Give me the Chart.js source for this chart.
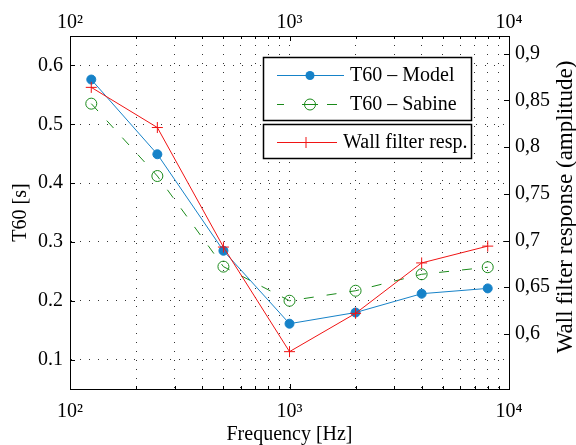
<!DOCTYPE html>
<html><head><meta charset="utf-8">
<script src="https://cdn.jsdelivr.net/npm/chart.js@4"></script>
<style>html,body{margin:0;padding:0;background:#fff;}canvas{display:block;}</style>
</head><body>
<canvas id="c" width="576" height="445"></canvas>
<script>
// ---- data ----
const frequencies = [125, 250, 500, 1000, 2000, 4000, 8000];
const t60Model   = [0.576, 0.449, 0.285, 0.161, 0.180, 0.212, 0.221];
const t60Sabine  = [0.535, 0.412, 0.258, 0.200, 0.217, 0.245, 0.257];
const wallFilter = [0.864, 0.821, 0.693, 0.581, 0.622, 0.676, 0.694];

const xTickValues = [100,200,300,400,500,600,700,800,900,1000,2000,3000,4000,5000,6000,7000,8000,9000,10000];
const xTickLabels = {100:'10\u00B2', 1000:'10\u00B3', 10000:'10\u2074'};
const yLeftTicks  = [0.1, 0.2, 0.3, 0.4, 0.5, 0.6];
const yLeftLabels = ['0.1','0.2','0.3','0.4','0.5','0.6'];
const yRightTicks  = [0.6, 0.65, 0.7, 0.75, 0.8, 0.85, 0.9];
const yRightLabels = ['0,6','0,65','0,7','0,75','0,8','0,85','0,9'];

const FONT = "'Liberation Serif', 'Times New Roman', serif";
const BLUE = '#1682c8', GREEN = '#1a8a1a', RED = '#f01414';

const pts = ys => frequencies.map((f, i) => ({x: f, y: ys[i]}));

const decorations = {
  id: 'decorations',
  afterDraw(chart) {
    const {ctx, chartArea: a, scales} = chart;
    ctx.save();
    ctx.strokeStyle = '#000'; ctx.lineWidth = 1; ctx.setLineDash([]);
    ctx.beginPath();
    xTickValues.forEach(v => {
      if (v === 100 || v === 10000) return;
      const px = Math.round(scales.x.getPixelForValue(v)) + 0.5;
      const len = xTickLabels[v] ? 5 : 3;
      ctx.moveTo(px, a.bottom); ctx.lineTo(px, a.bottom - len);
      ctx.moveTo(px, a.top); ctx.lineTo(px, a.top + len);
    });
    yLeftTicks.forEach(v => {
      const py = Math.round(scales.y.getPixelForValue(v)) + 0.5;
      ctx.moveTo(a.left, py); ctx.lineTo(a.left + 5, py);
    });
    yRightTicks.forEach(v => {
      const py = Math.round(scales.y2.getPixelForValue(v)) + 0.5;
      ctx.moveTo(a.right, py); ctx.lineTo(a.right - 5, py);
    });
    ctx.stroke();

    // right axis title (reads bottom to top)
    ctx.save();
    ctx.translate(566, 207);
    ctx.rotate(-Math.PI / 2);
    ctx.fillStyle = '#000';
    ctx.font = '23px ' + FONT;
    ctx.textAlign = 'center'; ctx.textBaseline = 'middle';
    ctx.fillText('Wall filter response (amplitude)', 0, 0);
    ctx.restore();

    // legend boxes
    const ds = chart.data.datasets;
    const boxL = 263.5, boxR = 471.5;
    ctx.fillStyle = '#fff';
    ctx.strokeStyle = '#000'; ctx.lineWidth = 1.5;
    ctx.fillRect(boxL, 57.5, boxR - boxL, 63); ctx.strokeRect(boxL, 57.5, boxR - boxL, 63);
    ctx.fillRect(boxL, 124.5, boxR - boxL, 34); ctx.strokeRect(boxL, 124.5, boxR - boxL, 34);

    ctx.font = '20px ' + FONT;
    ctx.textBaseline = 'middle'; ctx.textAlign = 'left';
    ctx.lineWidth = 1;
    // row 1: model
    const m = ds.find(d => d.id === 'model');
    ctx.strokeStyle = m.borderColor;
    ctx.beginPath(); ctx.moveTo(277, 75.5); ctx.lineTo(344, 75.5); ctx.stroke();
    ctx.fillStyle = m.backgroundColor;
    ctx.beginPath(); ctx.arc(310, 75.5, m.pointRadius, 0, 2 * Math.PI); ctx.fill();
    ctx.fillStyle = '#000'; ctx.fillText(m.label, 350, 76);
    // row 2: sabine
    const s = ds.find(d => d.id === 'sabine');
    ctx.strokeStyle = s.borderColor;
    ctx.beginPath();
    ctx.moveTo(277, 104.5); ctx.lineTo(284, 104.5);
    ctx.moveTo(302, 104.5); ctx.lineTo(318, 104.5);
    ctx.moveTo(327, 104.5); ctx.lineTo(337, 104.5);
    ctx.stroke();
    ctx.beginPath(); ctx.arc(310, 104.5, s.pointRadius, 0, 2 * Math.PI); ctx.stroke();
    ctx.fillStyle = '#000'; ctx.fillText(s.label, 350, 105);
    // row 3: wall filter
    const w = ds.find(d => d.id === 'wall');
    ctx.strokeStyle = w.borderColor;
    ctx.beginPath(); ctx.moveTo(277, 142.5); ctx.lineTo(337, 142.5);
    ctx.moveTo(306, 142.5 - w.pointRadius); ctx.lineTo(306, 142.5 + w.pointRadius);
    ctx.stroke();
    ctx.fillStyle = '#000'; ctx.fillText(w.label, 343, 143);
    ctx.restore();
  }
};

const gridDots = {color: '#333', lineWidth: 1, drawTicks: false};
const setX = s => { s.ticks = xTickValues.map(v => ({value: v})); };

new Chart(document.getElementById('c'), {
  type: 'line',
  data: {
    datasets: [
      {id: 'wall', label: 'Wall filter resp.', data: pts(wallFilter), yAxisID: 'y2', order: 1,
       borderColor: RED, backgroundColor: RED, borderWidth: 1, pointStyle: 'cross',
       pointRadius: 5.5, pointBorderWidth: 1, pointBorderColor: RED},
      {id: 'model', label: 'T60 \u2013 Model', data: pts(t60Model), yAxisID: 'y', order: 2,
       borderColor: BLUE, backgroundColor: BLUE, borderWidth: 1, pointStyle: 'circle',
       pointRadius: 4.5, pointBorderWidth: 1, pointBackgroundColor: BLUE, pointBorderColor: BLUE},
      {id: 'sabine', label: 'T60 \u2013 Sabine', data: pts(t60Sabine), yAxisID: 'y', order: 3,
       borderColor: GREEN, backgroundColor: 'rgba(0,0,0,0)', borderWidth: 1, borderDash: [10, 13],
       pointStyle: 'circle', pointRadius: 5.5, pointBorderWidth: 1,
       pointBackgroundColor: 'rgba(0,0,0,0)', pointBorderColor: GREEN}
    ]
  },
  options: {
    responsive: false, animation: false, devicePixelRatio: 1,
    layout: {padding: 0, autoPadding: false},
    font: {family: FONT},
    plugins: {legend: {display: false}, tooltip: {enabled: false}},
    elements: {line: {tension: 0}},
    scales: {
      x: {type: 'logarithmic', position: 'bottom', min: 100, max: 10000,
          afterBuildTicks: setX, afterFit: s => { s.height = 56; },
          grid: gridDots, border: {display: true, color: '#000', width: 1, dash: [1, 8]},
          ticks: {autoSkip: false, maxRotation: 0, minRotation: 0, padding: 11, color: '#000',
                  font: {family: FONT, size: 20}, callback: v => xTickLabels[v] || ''},
          title: {display: true, text: 'Frequency [Hz]', color: '#000',
                  font: {family: FONT, size: 20, lineHeight: 1}, padding: {top: 0, bottom: 0}}},
      x2: {type: 'logarithmic', position: 'top', min: 100, max: 10000,
          afterBuildTicks: setX, afterFit: s => { s.height = 36; },
          grid: {display: false, drawOnChartArea: false, drawTicks: false},
          border: {display: true, color: '#000', width: 1},
          ticks: {autoSkip: false, maxRotation: 0, minRotation: 0, padding: 1, color: '#000',
                  font: {family: FONT, size: 20}, callback: v => xTickLabels[v] || ''}},
      y: {type: 'linear', position: 'left', min: 0.05, max: 0.65,
          afterBuildTicks: s => { s.ticks = yLeftTicks.map(v => ({value: v})); },
          afterFit: s => { s.width = 70; },
          grid: gridDots, border: {display: true, color: '#000', width: 1, dash: [1, 8]},
          ticks: {padding: 7, color: '#000', font: {family: FONT, size: 20},
                  callback: (v, i) => yLeftLabels[i]},
          title: {display: true, text: 'T60 [s]', color: '#000',
                  font: {family: FONT, size: 20, lineHeight: 1}, padding: {top: 11, bottom: 0}}},
      y2: {type: 'linear', position: 'right', min: 0.541, max: 0.919,
          afterBuildTicks: s => { s.ticks = yRightTicks.map(v => ({value: v})); },
          afterFit: s => { s.width = 67; },
          grid: {display: false, drawOnChartArea: false, drawTicks: false},
          border: {display: true, color: '#000', width: 1},
          ticks: {padding: 6, color: '#000', font: {family: FONT, size: 20},
                  callback: (v, i) => yRightLabels[i]}}
    }
  },
  plugins: [decorations]
});
</script>
</body></html>
